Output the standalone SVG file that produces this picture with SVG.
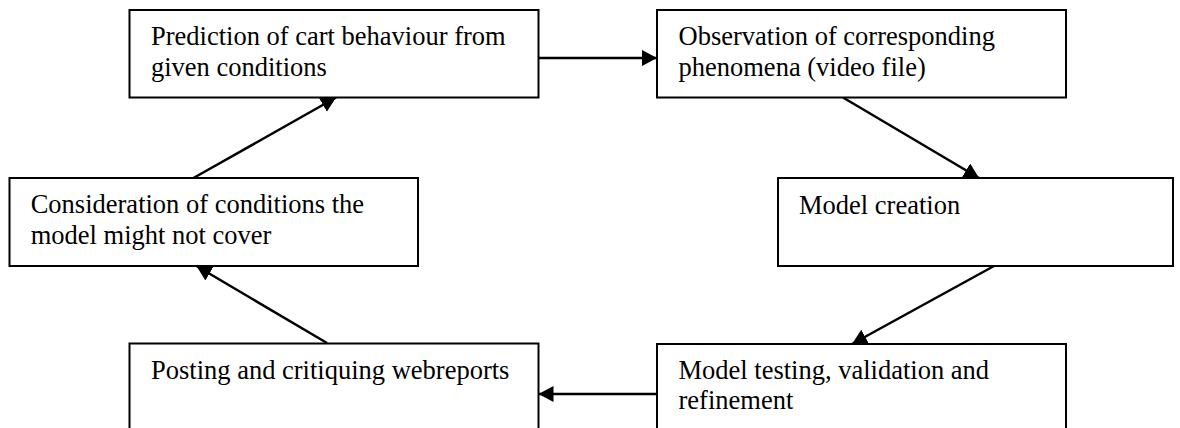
<svg xmlns="http://www.w3.org/2000/svg" width="1180" height="428" viewBox="0 0 1180 428">
<defs>
<style>
.box{fill:#fff;stroke:#000;stroke-width:2}
.t{font-family:"Liberation Serif","Times New Roman",serif;font-size:26.5px;fill:#000}
.c{stroke:#000;stroke-width:2.5;fill:none;marker-end:url(#ah)}
</style>
<marker id="ah" markerUnits="userSpaceOnUse" markerWidth="18" markerHeight="18" refX="15" refY="8" orient="auto">
<path d="M0,0 L15,8 L0,16 z" fill="#000"/>
</marker>
</defs>
<rect width="1180" height="428" fill="#fff"/>
<g id="connectors">
<line class="c" x1="538.5" y1="58" x2="657" y2="58"/>
<line class="c" x1="843" y1="97.5" x2="979" y2="178"/>
<line class="c" x1="994" y1="266" x2="852" y2="344"/>
<line class="c" x1="657" y1="394" x2="538.5" y2="394"/>
<line class="c" x1="327" y1="343" x2="196.5" y2="266"/>
<line class="c" x1="193.5" y1="178" x2="336" y2="97.5"/>
</g>
<g id="prediction">
<rect class="box" x="129.5" y="10" width="409" height="87.5"/>
<text class="t" x="151" y="45">Prediction of cart behaviour from</text>
<text class="t" x="151" y="75.5">given conditions</text>
</g>
<g id="observation">
<rect class="box" x="657" y="10" width="409" height="87.5"/>
<text class="t" x="678.5" y="45">Observation of corresponding</text>
<text class="t" x="678.5" y="75.5">phenomena (video file)</text>
</g>
<g id="model-creation">
<rect class="box" x="778" y="178" width="395" height="88"/>
<text class="t" x="799" y="214">Model creation</text>
</g>
<g id="model-testing">
<rect class="box" x="657" y="344" width="409" height="90"/>
<text class="t" x="678.5" y="378.5">Model testing, validation and</text>
<text class="t" x="678.5" y="408.5">refinement</text>
</g>
<g id="posting">
<rect class="box" x="129.5" y="343.5" width="409" height="90"/>
<text class="t" x="151" y="378.5">Posting and critiquing webreports</text>
</g>
<g id="consideration">
<rect class="box" x="9.5" y="178" width="408.5" height="88"/>
<text class="t" x="30.7" y="212.7">Consideration of conditions the</text>
<text class="t" x="30.7" y="244">model might not cover</text>
</g>
</svg>
